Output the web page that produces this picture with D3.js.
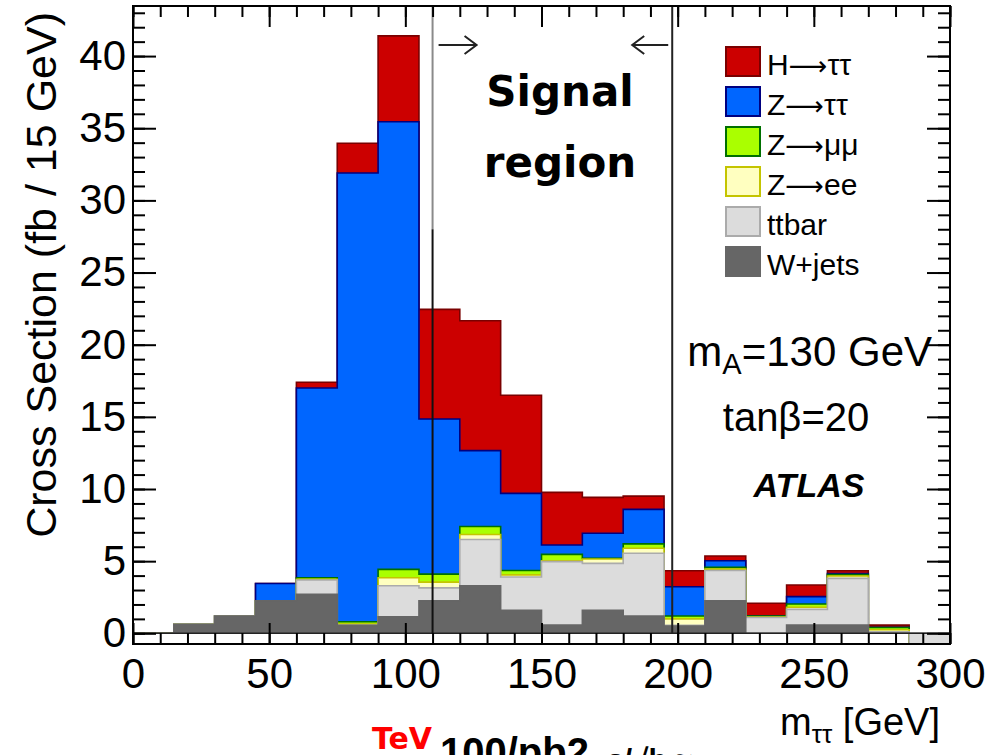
<!DOCTYPE html>
<html>
<head>
<meta charset="utf-8">
<script src="https://cdn.jsdelivr.net/npm/d3@7"></script>
<style>
  body { margin: 0; background: #fff; }
  text { font-family: "Liberation Sans", Arial, sans-serif; fill: #000; }
</style>
</head>
<body>
<svg width="999" height="755"></svg>
<script>
// lower edges of the 15 GeV bins
var binLow = [0, 15, 30, 45, 60, 75, 90, 105, 120, 135, 150, 165, 180, 195, 210, 225, 240, 255, 270, 285];

// cross section per bin (fb / 15 GeV)
var wjets = [0, 0.6, 1.2, 2.25, 2.7, 0.55, 1.15, 2.25, 3.3, 1.6, 0.57, 1.6, 1.2, 0.5, 2.25, 0, 0.57, 0.57, 0, 0];
var ttbar = [0, 0, 0, 0, 1.0, 0, 2.15, 0.9, 3.2, 2.3, 4.4, 3.25, 4.35, 0.05, 2.1, 1.1, 1.09, 3.24, 0.1, -0.75];
var zee   = [0, 0, 0, 0, 0.05, 0.1, 0.55, 0.4, 0.35, 0.15, 0.05, 0.3, 0.35, 0.45, 0.1, 0.02, 0.15, 0.16, 0.15, 0];
var zmumu = [0, 0, 0, 0, 0.1, 0.15, 0.58, 0.55, 0.55, 0.3, 0.45, 0.05, 0.3, 0.2, 0.12, 0.08, 0.22, 0.1, 0.15, 0];
var ztautau = [0, 0, 0, 1.2, 13.15, 31.1, 31.02, 10.75, 5.26, 5.35, 0.65, 1.73, 2.39, 2.03, 0.46, 0, 0.51, 0.07, 0.02, 0];
var htautau = [0, 0, 0, 0, 0.4, 2.06, 5.95, 7.6, 9.0, 6.8, 3.65, 2.49, 0.92, 1.11, 0.33, 0.88, 0.81, 0.2, 0.15, 0];

// legend labels as [before arrow, after arrow]
var legendLabels = [["H", "\u03c4\u03c4"], ["Z", "\u03c4\u03c4"], ["Z", "\u03bc\u03bc"], ["Z", "ee"], ["ttbar"], ["W+jets"]];
var yMajorTicks = [0, 5, 10, 15, 20, 25, 30, 35, 40];
var xMajorTicks = [0, 50, 100, 150, 200, 250, 300];
var signalCuts = [110, 198];

var svg = d3.select("svg"),
    frame = {left: 133, right: 950, top: 6, bottom: 644};

var x = d3.scaleLinear().domain([0, 300]).range([frame.left, frame.right]);
var y = d3.scaleLinear().domain([-0.74, 43.47]).range([frame.bottom, frame.top]);

// stack, bottom to top
var keys = ["wjets", "ttbar", "zee", "zmumu", "ztautau", "htautau"];
var src = {wjets: wjets, ttbar: ttbar, zee: zee, zmumu: zmumu, ztautau: ztautau, htautau: htautau};
var rows = binLow.map(function (lo, i) {
    var r = {lo: lo};
    keys.forEach(function (k) { r[k] = src[k][i]; });
    return r;
});
var stacked = d3.stack().keys(keys)(rows);

var style = {
    htautau: {fill: "#cc0000", stroke: "#7a0000"},
    ztautau: {fill: "#0066ff", stroke: "#000080"},
    zmumu:   {fill: "#aaff00", stroke: "#007000"},
    zee:     {fill: "#ffffc0", stroke: "#c4c400"},
    ttbar:   {fill: "#dcdcdc", stroke: "#ababab"},
    wjets:   {fill: "#666666", stroke: "#666666"}
};

svg.append("clipPath").attr("id", "clip")
  .append("rect")
    .attr("x", frame.left).attr("y", frame.top)
    .attr("width", frame.right - frame.left).attr("height", frame.bottom - frame.top);

var hist = svg.append("g").attr("clip-path", "url(#clip)");

var area = d3.area()
    .curve(d3.curveStepAfter)
    .x(function (p) { return x(p.x); })
    .y0(y(0))
    .y1(function (p) { return y(p.v); });

var step = d3.line()
    .curve(d3.curveStepAfter)
    .x(function (p) { return x(p.x); })
    .y(function (p) { return y(p.v); });

// draw like a THStack: the highest cumulative first, lower ones over it
stacked.slice().reverse().forEach(function (s) {
    var pts = s.map(function (d, i) { return {x: binLow[i], v: d[1]}; });
    pts.push({x: 300, v: pts[pts.length - 1].v});
    hist.append("path").datum(pts)
        .attr("d", area)
        .attr("fill", style[s.key].fill);
    hist.append("path").datum(pts)
        .attr("d", step)
        .attr("fill", "none")
        .attr("stroke", style[s.key].stroke)
        .attr("stroke-width", 1.6);
});

// zero line
hist.append("line")
    .attr("x1", frame.left).attr("x2", frame.right)
    .attr("y1", y(0)).attr("y2", y(0))
    .attr("stroke", "#222").attr("stroke-width", 1.6);

// signal region cut lines
var cutTop = y(28);
hist.append("line")
    .attr("x1", x(signalCuts[0])).attr("x2", x(signalCuts[0]))
    .attr("y1", frame.top).attr("y2", cutTop)
    .attr("stroke", "#8a8a8a").attr("stroke-width", 2);
hist.append("line")
    .attr("x1", x(signalCuts[0])).attr("x2", x(signalCuts[0]))
    .attr("y1", cutTop).attr("y2", y(0))
    .attr("stroke", "#111").attr("stroke-width", 2);
hist.append("line")
    .attr("x1", x(signalCuts[1])).attr("x2", x(signalCuts[1]))
    .attr("y1", frame.top).attr("y2", y(0))
    .attr("stroke", "#222").attr("stroke-width", 2);

// arrows pointing into the signal region
var ay = 45;
function arrow(x0, x1) {
    var dir = x1 > x0 ? 1 : -1;
    svg.append("path")
        .attr("d", "M" + x0 + "," + ay + "H" + x1 +
                   "M" + (x1 - dir * 12) + "," + (ay - 9) + "L" + x1 + "," + ay + "L" + (x1 - dir * 12) + "," + (ay + 9))
        .attr("fill", "none").attr("stroke", "#222").attr("stroke-width", 2);
}
arrow(x(signalCuts[0]) + 6, x(signalCuts[0]) + 44);
arrow(x(signalCuts[1]) - 4, x(signalCuts[1]) - 40);

// axes: ticks on all four sides, pointing inward
function styleAxis(g) {
    g.select(".domain").remove();
    g.selectAll("line").attr("stroke", "#000").attr("stroke-width", 2);
    g.selectAll("text").style("font-size", "42px").style("font-family", '"Liberation Sans", Arial, sans-serif');
}
var yMinor = d3.range(0, 44, 1), xMinor = d3.range(0, 301, 10);

svg.append("g").attr("transform", "translate(" + frame.left + ",0)")
    .call(d3.axisLeft(y).tickValues(yMinor).tickSize(-12).tickFormat("")).call(styleAxis);
svg.append("g").attr("transform", "translate(" + frame.left + ",0)")
    .call(d3.axisLeft(y).tickValues(yMajorTicks).tickSize(-23).tickPadding(7).tickFormat(d3.format("d"))).call(styleAxis);
svg.append("g").attr("transform", "translate(" + frame.right + ",0)")
    .call(d3.axisRight(y).tickValues(yMinor).tickSize(-12).tickFormat("")).call(styleAxis);
svg.append("g").attr("transform", "translate(" + frame.right + ",0)")
    .call(d3.axisRight(y).tickValues(yMajorTicks).tickSize(-23).tickFormat("")).call(styleAxis);

svg.append("g").attr("transform", "translate(0," + frame.bottom + ")")
    .call(d3.axisBottom(x).tickValues(xMinor).tickSize(-11).tickFormat("")).call(styleAxis);
svg.append("g").attr("transform", "translate(0," + frame.bottom + ")")
    .call(d3.axisBottom(x).tickValues(xMajorTicks).tickSize(-21).tickPadding(14).tickFormat(d3.format("d"))).call(styleAxis);
svg.append("g").attr("transform", "translate(0," + frame.top + ")")
    .call(d3.axisTop(x).tickValues(xMinor).tickSize(-11).tickFormat("")).call(styleAxis);
svg.append("g").attr("transform", "translate(0," + frame.top + ")")
    .call(d3.axisTop(x).tickValues(xMajorTicks).tickSize(-21).tickFormat("")).call(styleAxis);

// frame
svg.append("rect")
    .attr("x", frame.left).attr("y", frame.top)
    .attr("width", frame.right - frame.left).attr("height", frame.bottom - frame.top)
    .attr("fill", "none").attr("stroke", "#000").attr("stroke-width", 2);

// axis titles
svg.append("text")
    .attr("transform", "translate(56,12) rotate(-90)")
    .attr("text-anchor", "end")
    .style("font-size", "43px")
    .text("Cross Section (fb / 15 GeV)");

var xt = svg.append("text")
    .attr("x", 940).attr("y", 735)
    .attr("text-anchor", "end")
    .style("font-size", "38px");
xt.append("tspan").text("m");
xt.append("tspan").attr("dy", 8).style("font-size", "26px").text("\u03c4\u03c4");
xt.append("tspan").attr("dy", -8).text(" [GeV]");

// legend
var legendKeys = ["htautau", "ztautau", "zmumu", "zee", "ttbar", "wjets"];
var leg = svg.append("g").attr("transform", "translate(726,47)");
legendKeys.forEach(function (k, i) {
    leg.append("rect")
        .attr("x", 0).attr("y", i * 40)
        .attr("width", 34).attr("height", 29)
        .attr("fill", style[k].fill)
        .attr("stroke", style[k].stroke).attr("stroke-width", 2);
    var t = leg.append("text")
        .attr("x", 41).attr("y", i * 40 + 28)
        .style("font-size", "30px");
    t.append("tspan").text(legendLabels[i][0]);
    if (legendLabels[i].length > 1) {
        t.append("tspan").style("font-family", '"DejaVu Sans", sans-serif').style("font-size", "27px").text("\u27f6");
        t.append("tspan").text(legendLabels[i][1]);
    }
});

// parameter labels
var ma = svg.append("text")
    .attr("x", 932).attr("y", 366)
    .attr("text-anchor", "end")
    .style("font-size", "42px");
ma.append("tspan").text("m");
ma.append("tspan").attr("dy", 8).style("font-size", "29px").text("A");
ma.append("tspan").attr("dy", -8).text("=130 GeV");

svg.append("text")
    .attr("x", 796).attr("y", 431)
    .attr("text-anchor", "middle")
    .style("font-size", "40px")
    .text("tan\u03b2=20");

svg.append("text")
    .attr("x", 809).attr("y", 497)
    .attr("text-anchor", "middle")
    .style("font-size", "34px").style("font-weight", "bold").style("font-style", "italic")
    .text("ATLAS");

// signal region note
["Signal", "region"].forEach(function (w, i) {
    svg.append("text")
        .attr("x", 560).attr("y", 106 + i * 71)
        .attr("text-anchor", "middle")
        .style("font-family", '"Comic Sans MS", "DejaVu Sans", sans-serif')
        .style("font-size", "42px").style("font-weight", "bold")
        .text(w);
});

// text cut off at the bottom of the slide
svg.append("text")
    .attr("x", 372).attr("y", 749)
    .style("font-family", '"Comic Sans MS", "DejaVu Sans", sans-serif')
    .style("font-size", "30px").style("font-weight", "bold")
    .style("fill", "#ff0000")
    .text("TeV");
svg.append("text")
    .attr("x", 440).attr("y", 766)
    .style("font-size", "40px").style("font-weight", "bold")
    .text("100/pb2");
svg.append("text")
    .attr("x", 607).attr("y", 770)
    .style("font-size", "30px").style("font-weight", "bold")
    .text("s/\u221ab \u2248");
</script>
</body>
</html>
